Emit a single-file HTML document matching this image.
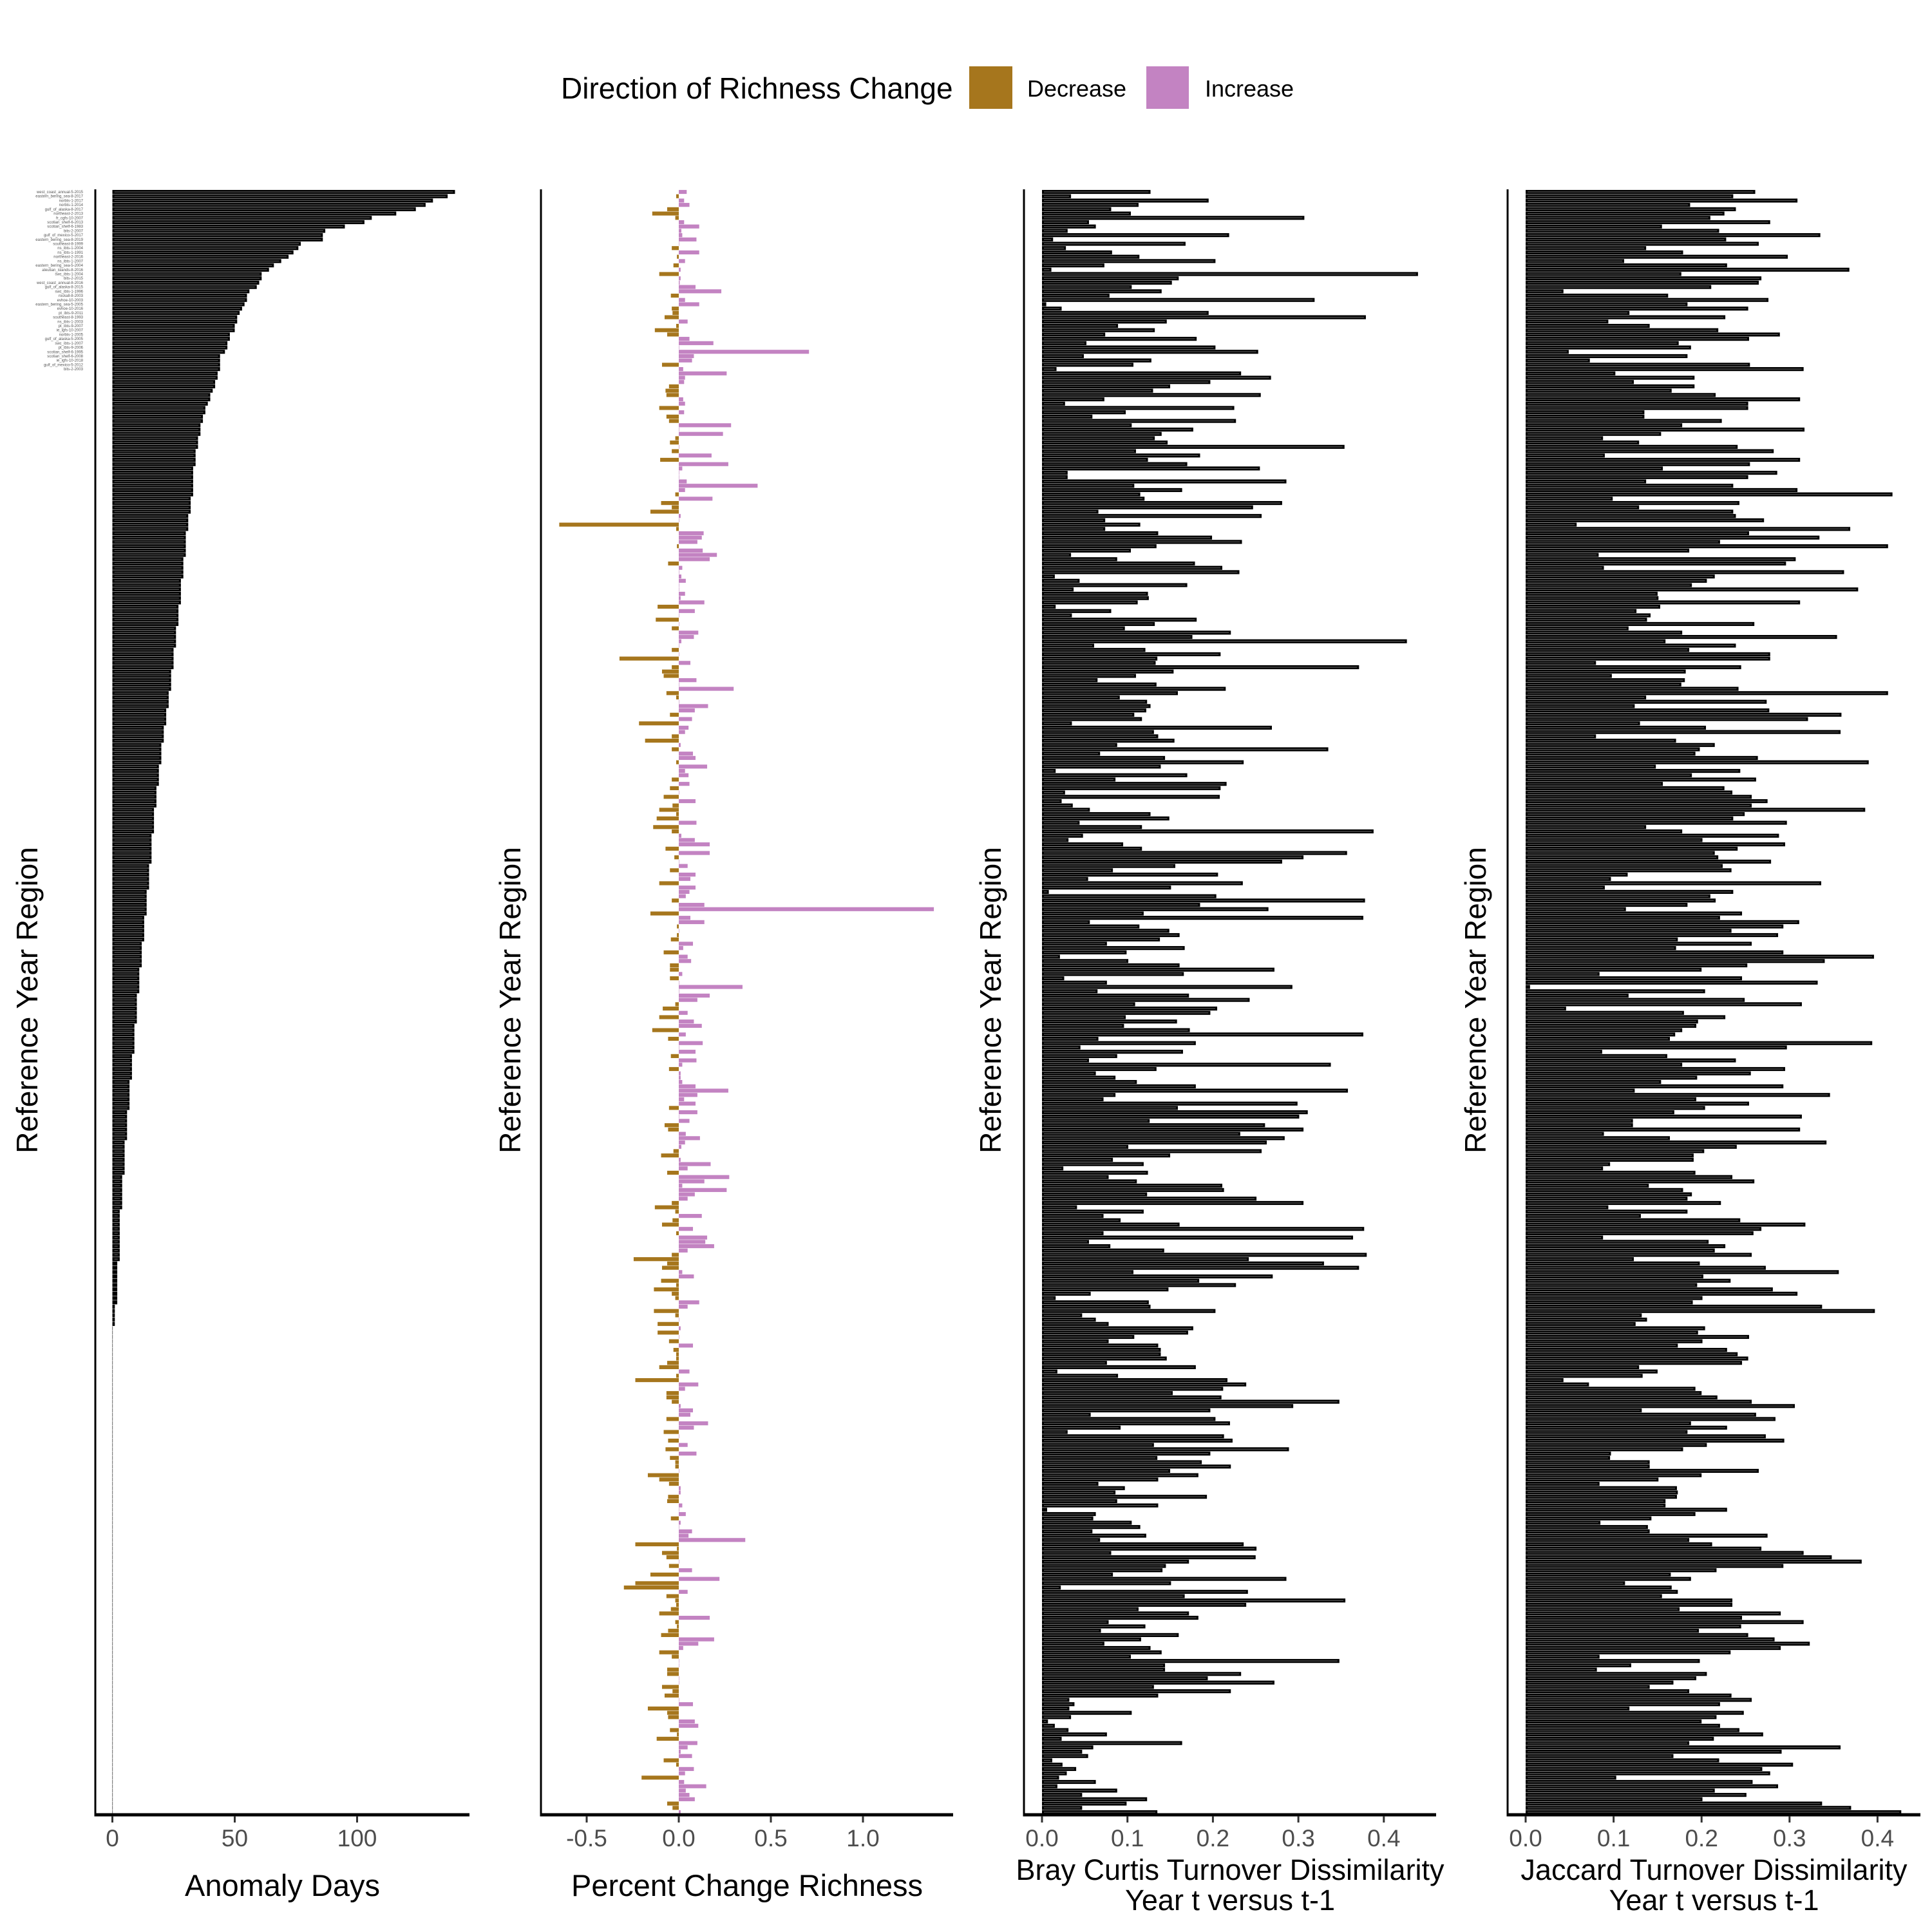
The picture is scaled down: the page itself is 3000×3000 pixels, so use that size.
<!DOCTYPE html>
<html>
<head>
<meta charset="utf-8">
<style>
html,body{margin:0;padding:0;background:#fff;}
svg{display:block;font-family:"Liberation Sans",Arial,sans-serif;}
</style>
</head>
<body>
<svg id="chart" width="3000" height="3000" viewBox="0 0 3000 3000" xmlns="http://www.w3.org/2000/svg">
  <rect x="0" y="0" width="3000" height="3000" fill="#ffffff"/>
  <g>
    <text x="871" y="153" font-size="46" fill="#000">Direction of Richness Change</text>
    <rect x="1505" y="103" width="67" height="66" fill="#a6761d"/>
    <text x="1595" y="150" font-size="36" fill="#000">Decrease</text>
    <rect x="1780" y="103" width="66" height="66" fill="#c383c2"/>
    <text x="1871" y="150" font-size="36" fill="#000">Increase</text>
  </g>
  <g id="panels"></g>
</svg>
<script>
const anomalyDays = [140,137,131,128,124,116,106,103,95,87,86,86,77,76,74,72,69,66,64,61,61,60,59,56,55,55,54,53,52,51,51,50,50,48,48,47,47,46,44,44,44,44,
43,43,42,42,41,40,40,39,38,38,37,37,36,36,
36,35,35,35,34,34,34,34,33,33,33,33,33,33,33,
32,32,32,32,31,31,31,31,30,30,30,30,30,30,
29,29,29,29,29,28,28,28,28,28,28,27,27,27,
27,27,26,26,26,26,26,25,25,25,25,25,24,24,
24,24,24,23,23,23,23,22,22,22,22,21,21,21,21,
20,20,20,20,20,19,19,19,19,19,18,18,18,18,
18,17,17,17,17,17,17,16,16,16,16,16,16,16,
15,15,15,15,15,15,14,14,14,14,14,14,13,13,13,
13,13,13,12,12,12,12,12,12,11,11,11,11,11,
11,10,10,10,10,10,10,10,9,9,9,9,9,9,
9,8,8,8,8,8,8,7,7,7,7,7,7,7,
6,6,6,6,6,6,6,5,5,5,5,5,5,5,
5,4,4,4,4,4,4,4,4,3,3,3,3,3,3,
3,3,3,3,3,3,2,2,2,2,2,2,2,2,
2,2,1,1,1,1,1,
0,0,0,0,0,0,0,0,0,0,0,0,0,0,0,0,0,0,0,0,0,0,0,0,0,0,0,0,0,0,
0,0,0,0,0,0,0,0,0,0,0,0,0,0,0,0,0,0,0,0,0,0,0,0,0,0,0,0,0,0,
0,0,0,0,0,0,0,0,0,0,0,0,0,0,0,0,0,0,0,0,0,0,0,0,0,0,0,0,0,0,
0,0,0,0,0,0,0,0,0,0,0,0,0,0,0,0,0,0,0,0,0,0,0];

const pctChange = [
.043,-.014,.029,.058,-.063,-.144,-.019,.029,.111,.014,.019,.096,0,-.038,.111,-.01,.034,-.029,.01,-.106,.01,.005,.091,.231,-.043,.034,.111,-.038,-.034,-.077,.048,-.014,-.130,-.063,.058,.188,0,.707,.082,.072,-.091,.024,.260,.034,.029,-.053,-.072,
-.067,.024,.034,-.106,.029,-.067,-.053,.284,0,.240,-.019,-.048,0,-.038,.178,-.101,.269,.019,0,0,.043,.428,.034,-.019,.183,-.096,-.038,-.154,.01,0,-.649,-.014,.135,.125,.101,-.01,.130,.207,.168,-.058,.019,0,.014,.038,0,0,.034,
.01,.139,-.115,.087,0,-.125,0,-.038,.106,.082,.014,0,-.038,0,-.322,.063,-.038,-.091,-.082,.096,0,.298,-.067,-.014,0,.159,.087,-.048,.072,-.216,.053,.034,-.038,-.183,.01,-.038,.077,.091,-.014,.154,.034,.053,-.038,.058,-.048,0,-.082,
.091,-.034,-.106,-.014,-.120,.096,-.139,-.038,.014,.087,.168,-.072,.168,-.024,0,.048,-.048,.091,.063,-.106,.091,.058,.038,-.038,.139,1.385,-.154,.063,.139,-.01,0,-.01,-.043,.077,.024,-.082,.048,.067,-.048,-.048,.019,-.048,0,.346,0,.168,.101,
-.019,-.087,.048,-.106,.082,.125,-.144,.038,-.058,.130,0,.091,-.043,.096,.019,-.053,.01,.01,.019,.091,.269,.101,.029,.091,-.053,.101,0,.058,-.077,-.058,.038,.115,.034,.014,-.029,-.096,.01,.173,.048,-.063,.274,.139,.019,.260,.087,.048,-.038,
-.130,-.019,.125,-.034,-.091,.077,-.014,.154,.144,.192,.048,-.038,-.245,-.063,-.091,.019,.082,-.096,-.014,-.135,-.038,-.019,.111,.048,-.135,-.019,0,-.115,.01,-.115,0,-.053,.077,-.029,-.014,-.014,-.063,-.106,.058,-.014,-.236,.106,.034,-.067,-.067,-.038,.01,
.077,.063,-.067,.159,.082,-.082,0,-.058,.048,-.072,.096,-.048,-.019,-.019,0,-.168,-.106,-.053,.01,.01,-.058,-.063,.019,0,.038,-.043,.01,0,.072,.053,.361,-.236,-.01,-.091,-.067,0,-.053,.072,-.154,.221,-.236,-.298,.048,-.067,-.019,-.014,-.043,
-.106,.168,-.019,-.01,-.058,-.096,.192,.106,.024,-.106,-.038,0,0,-.063,-.063,0,0,-.091,-.034,-.077,0,.077,-.168,-.063,-.058,.087,.106,-.048,-.01,-.120,.101,.048,.01,.072,-.082,-.014,.082,.034,-.202,.029,.149,.038,.058,.087,-.063,-.034,.01];

const brayCurtis = [
.127,.034,.195,.113,.081,.104,.307,.055,.063,.030,.219,.013,.168,.028,.082,.114,.203,.073,.011,.440,.160,.152,.105,.140,.079,.319,.005,.023,.195,.379,.146,.089,.132,.074,.181,.052,.203,.253,.049,.128,.107,.017,.233,.268,.197,.150,.130,
.256,.073,.027,.225,.098,.059,.227,.105,.177,.140,.132,.147,.354,.110,.185,.124,.170,.255,.030,.030,.286,.108,.164,.115,.120,.281,.247,.066,.257,.074,.115,.074,.136,.199,.234,.134,.104,.034,.088,.179,.211,.231,.015,.044,.170,.037,.124,
.125,.112,.016,.081,.035,.181,.132,.097,.221,.176,.427,.061,.121,.209,.135,.133,.371,.154,.110,.065,.134,.215,.159,.091,.123,.127,.122,.108,.117,.035,.269,.131,.136,.155,.088,.335,.068,.144,.236,.139,.016,.170,.086,.216,.209,.027,.208,
.023,.036,.056,.127,.149,.044,.117,.388,.048,.031,.095,.117,.357,.306,.281,.156,.083,.206,.054,.235,.151,.008,.204,.378,.185,.265,.119,.376,.056,.114,.149,.161,.138,.076,.167,.099,.021,.101,.161,.272,.166,.026,.076,.293,.065,.172,.243,
.109,.205,.197,.098,.158,.096,.173,.376,.066,.180,.045,.165,.088,.055,.338,.134,.063,.086,.111,.180,.358,.086,.072,.299,.159,.311,.301,.126,.261,.306,.232,.284,.263,.101,.257,.150,.083,.119,.025,.124,.078,.111,.211,.213,.123,.251,.306,
.041,.119,.072,.092,.161,.377,.072,.364,.055,.080,.143,.380,.242,.330,.371,.107,.270,.184,.227,.148,.057,.016,.125,.127,.203,.047,.063,.078,.177,.171,.108,.078,.136,.139,.139,.146,.076,.180,.018,.089,.217,.239,.212,.153,.210,.348,.294,
.197,.057,.203,.220,.092,.030,.213,.223,.131,.289,.197,.135,.187,.221,.150,.183,.136,.066,.097,.086,.193,.088,.136,.006,.063,.060,.105,.115,.059,.122,.068,.236,.251,.081,.250,.172,.145,.141,.083,.286,.151,.022,.241,.167,.355,.239,.113,
.172,.183,.078,.121,.069,.160,.116,.073,.127,.140,.104,.348,.144,.144,.233,.194,.272,.131,.221,.136,.032,.038,.032,.105,.034,.007,.015,.031,.076,.023,.164,.060,.047,.054,.012,.024,.040,.029,.020,.063,.018,.088,.047,.123,.099,.047,.135];

const jaccard = [
.261,.236,.309,.187,.239,.226,.210,.278,.155,.220,.335,.228,.265,.137,.179,.298,.112,.229,.368,.177,.268,.265,.211,.043,.162,.276,.184,.253,.118,.227,.094,.141,.219,.289,.254,.174,.188,.049,.184,.073,.255,.316,.102,.192,.123,.192,.166,
.216,.312,.253,.253,.135,.135,.223,.178,.317,.154,.088,.129,.241,.282,.090,.312,.255,.156,.286,.253,.137,.236,.309,.417,.099,.243,.129,.236,.239,.271,.058,.369,.254,.334,.221,.412,.186,.083,.307,.296,.089,.362,.215,.206,.189,.378,.150,
.151,.312,.153,.126,.142,.138,.260,.117,.178,.354,.159,.239,.186,.278,.278,.080,.245,.182,.098,.181,.177,.242,.412,.137,.274,.124,.277,.359,.321,.130,.205,.358,.080,.171,.215,.198,.193,.264,.390,.148,.244,.189,.262,.156,.226,.235,.257,
.275,.257,.386,.249,.236,.297,.137,.178,.288,.201,.295,.241,.215,.219,.279,.224,.234,.116,.097,.336,.090,.236,.210,.216,.184,.114,.246,.221,.311,.293,.234,.287,.173,.257,.171,.293,.396,.340,.252,.200,.084,.246,.332,.005,.204,.117,.249,
.314,.046,.180,.227,.196,.194,.178,.170,.164,.394,.297,.087,.161,.239,.178,.295,.256,.195,.154,.293,.124,.346,.194,.254,.204,.169,.314,.122,.122,.312,.089,.164,.342,.240,.203,.191,.191,.096,.088,.193,.235,.260,.140,.179,.189,.184,.222,
.094,.184,.131,.244,.318,.268,.259,.088,.208,.227,.215,.257,.123,.198,.273,.356,.202,.233,.195,.281,.309,.201,.190,.337,.397,.132,.138,.125,.204,.196,.254,.201,.173,.229,.241,.253,.246,.129,.150,.133,.043,.072,.193,.200,.218,.257,.306,
.132,.262,.284,.188,.229,.184,.273,.294,.206,.179,.097,.096,.141,.141,.265,.200,.151,.084,.172,.173,.172,.159,.159,.229,.193,.143,.085,.139,.141,.275,.186,.212,.268,.316,.348,.382,.293,.217,.165,.188,.113,.166,.173,.155,.235,.235,.175,
.290,.246,.316,.245,.197,.253,.283,.323,.290,.233,.084,.198,.120,.081,.206,.194,.168,.141,.186,.234,.257,.221,.118,.248,.217,.200,.221,.243,.270,.214,.186,.358,.291,.168,.220,.304,.269,.278,.103,.258,.287,.215,.251,.201,.337,.370,.427];

const regionNames = ["west_coast_annual-5-2015","eastern_bering_sea-8-2017","norbts-1-2017","norbts-1-2014","gulf_of_alaska-8-2017","northeast-2-2013","fr_cgfs-10-2007","scotian_shelf-6-2013","scotian_shelf-6-1983","bits-2-2007","gulf_of_mexico-5-2017","eastern_bering_sea-8-2019","southeast-8-1999","ns_ibts-1-2004","ns_ibts-1-1991","northeast-2-2016","ns_ibts-1-2007","eastern_bering_sea-5-2004","aleutian_islands-8-2016","swc_ibts-1-2004","bits-2-2015","west_coast_annual-8-2016","gulf_of_alaska-8-2015","swc_ibts-1-1996","rockall-8-2003","evhoe-10-2003","eastern_bering_sea-5-2005","evhoe-10-2016","pt_ibts-9-2011","southeast-8-1993","ns_ibts-1-2003","pt_ibts-9-2007","ie_igfs-10-2007","norbts-1-2005","gulf_of_alaska-5-2005","swc_ibts-1-2007","pt_ibts-9-2006","scotian_shelf-6-1995","scotian_shelf-6-2008","ie_igfs-10-2018","gulf_of_mexico-5-2012","bits-2-2003"];

const tickP1 = [0, 50, 100];
const tickP2 = [-0.5, 0, 0.5, 1.0];
const tickP2Labels = ["-0.5", "0.0", "0.5", "1.0"];
const tickP34 = [0, 0.1, 0.2, 0.3, 0.4];
const tickP34Labels = ["0.0", "0.1", "0.2", "0.3", "0.4"];

const NS = "http://www.w3.org/2000/svg";
const root = document.getElementById("panels");
const TOP = 294, BOTTOM = 2818;
const N = anomalyDays.length;
const STEP = (BOTTOM - TOP) / (N - 1 + 1.2);
function yCenter(i) { return TOP + (0.6 + i) * STEP; }
const BAR_H = STEP * 0.92;

function mk(tag, attrs, parent) {
  const el = document.createElementNS(NS, tag);
  for (const k in attrs) el.setAttribute(k, attrs[k]);
  (parent || root).appendChild(el);
  return el;
}

function drawPanel(cfg) {
  const g = mk("g", {});
  
  
  const xs = v => cfg.zero + v * cfg.scale;
  cfg.values.forEach((v, i) => {
    const x1 = xs(Math.min(0, v)), x2 = xs(Math.max(0, v));
    const w = Math.max(x2 - x1, 0.6);
    const y = yCenter(i) - BAR_H / 2;
    const fill = cfg.colorFn ? cfg.colorFn(v) : "#000";
    const r = mk("rect", {x: x1, y: y, width: w, height: BAR_H, fill: fill}, g);
    
    
    if (!cfg.colorFn && w > 8) {
      const l = mk("line", {x1: x1 + 3, x2: x1 + w - 3, y1: yCenter(i), y2: yCenter(i), stroke: "#5a5a5a", "stroke-width": 1.2}, g);
      
      
    }
  });
  const ya = mk("line", {x1: cfg.axisX, x2: cfg.axisX, y1: TOP, y2: BOTTOM + 2, stroke: "#000", "stroke-width": 3}, g);
  
  
  const xa = mk("line", {x1: cfg.axisX - 1.5, x2: cfg.right, y1: BOTTOM, y2: BOTTOM, stroke: "#000", "stroke-width": 5}, g);
  
  
  cfg.ticks.forEach((t, k) => {
    const tl = mk("line", {x1: xs(t), x2: xs(t), y1: BOTTOM + 2, y2: BOTTOM + 12, stroke: "#333", "stroke-width": 3}, g);
    
    
    const tx = mk("text", {x: xs(t), y: 2867, "font-size": 37, fill: "#4d4d4d", "text-anchor": "middle"}, g);
    tx.textContent = cfg.tickLabels[k];
    
    
  });
  const mid = (cfg.axisX + cfg.right) / 2;
  cfg.title.forEach((line, k) => {
    const t = mk("text", {x: mid, y: cfg.titleY + k * 47, "font-size": cfg.titleSize, fill: "#000", "text-anchor": "middle"}, g);
    t.textContent = line;
    
    
  });
  const yt = mk("text", {x: 0, y: 0, "font-size": 46, fill: "#000", "text-anchor": "middle", transform: "translate(" + (cfg.yTitleX) + ",1553) rotate(-90)"}, g);
  yt.textContent = "Reference Year Region";
  
  
  return g;
}

const p1 = drawPanel({name: "anomaly-days-panel", barName: "anomaly-bar", values: anomalyDays, zero: 174.5, scale: 3.8, axisX: 148, right: 729,
  ticks: tickP1, tickLabels: tickP1.map(String), title: ["Anomaly Days"], titleY: 2944, titleSize: 47, yTitleX: 58});
drawPanel({name: "percent-change-panel", barName: "richness-bar", values: pctChange, zero: 1054, scale: 286, axisX: 840, right: 1480,
  ticks: tickP2, tickLabels: tickP2Labels, title: ["Percent Change Richness"], titleY: 2944, titleSize: 47, yTitleX: 808,
  colorFn: v => v < 0 ? "#a6761d" : "#c383c2"});
drawPanel({name: "bray-curtis-panel", barName: "bray-curtis-bar", values: brayCurtis, zero: 1618, scale: 1327, axisX: 1590, right: 2230,
  ticks: tickP34, tickLabels: tickP34Labels, title: ["Bray Curtis Turnover Dissimilarity", "Year t versus t-1"], titleY: 2919, titleSize: 45, yTitleX: 1554});
drawPanel({name: "jaccard-panel", barName: "jaccard-bar", values: jaccard, zero: 2369, scale: 1366, axisX: 2341, right: 2982,
  ticks: tickP34, tickLabels: tickP34Labels, title: ["Jaccard Turnover Dissimilarity", "Year t versus t-1"], titleY: 2919, titleSize: 45, yTitleX: 2307});

regionNames.forEach((nm, i) => {
  const t = mk("text", {x: 129, y: yCenter(i) + 2, "font-size": 6, fill: "#555", "text-anchor": "end"}, p1);
  t.textContent = nm;
  
  
});
</script>
</body>
</html>
